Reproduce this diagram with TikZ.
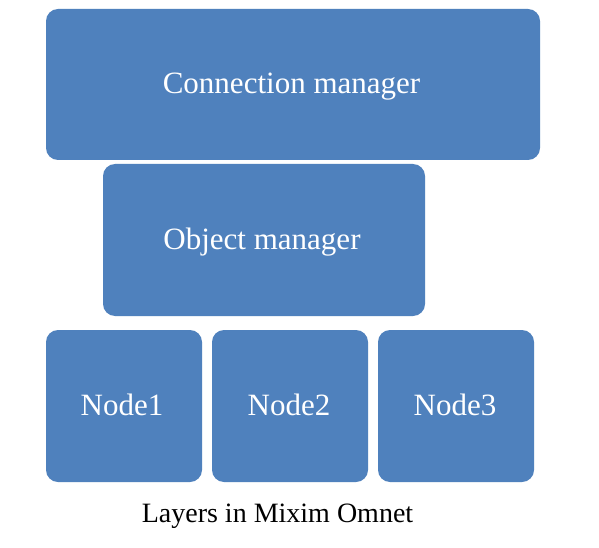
\documentclass[tikz,border=0pt]{standalone}
\usepackage{fontspec}
\setmainfont{Liberation Serif}
\definecolor{boxblue}{HTML}{4F81BD}
\begin{document}
\begin{tikzpicture}[x=1pt,y=-1pt,
  layerbox/.style={fill=boxblue,draw=none,rounded corners=12pt},
  boxtext/.style={text=white,anchor=base,inner sep=0pt,font=\fontsize{31}{36}\selectfont},
  caption/.style={font=\fontsize{28}{32}\selectfont,text=black,anchor=base,inner sep=0pt}]
\useasboundingbox (0,0) rectangle (599,548);
\fill[white] (0,0) rectangle (599,548);
\fill[layerbox] (46,9) rectangle (540,160);
\node[boxtext] (cm) at (291.5,94) {Connection manager};
\fill[layerbox] (103,164) rectangle (425,316);
\node[boxtext] (om) at (262,249.5) {Object manager};
\fill[layerbox] (46,330) rectangle (202,482);
\node[boxtext] (n1) at (122,415) {Node1};
\fill[layerbox] (212,330) rectangle (368,482);
\node[boxtext] (n2) at (289,415) {Node2};
\fill[layerbox] (378,330) rectangle (534,482);
\node[boxtext] (n3) at (455,415) {Node3};
\node[caption] (cap) at (277.5,522) {Layers in Mixim Omnet};
\end{tikzpicture}
\end{document}
